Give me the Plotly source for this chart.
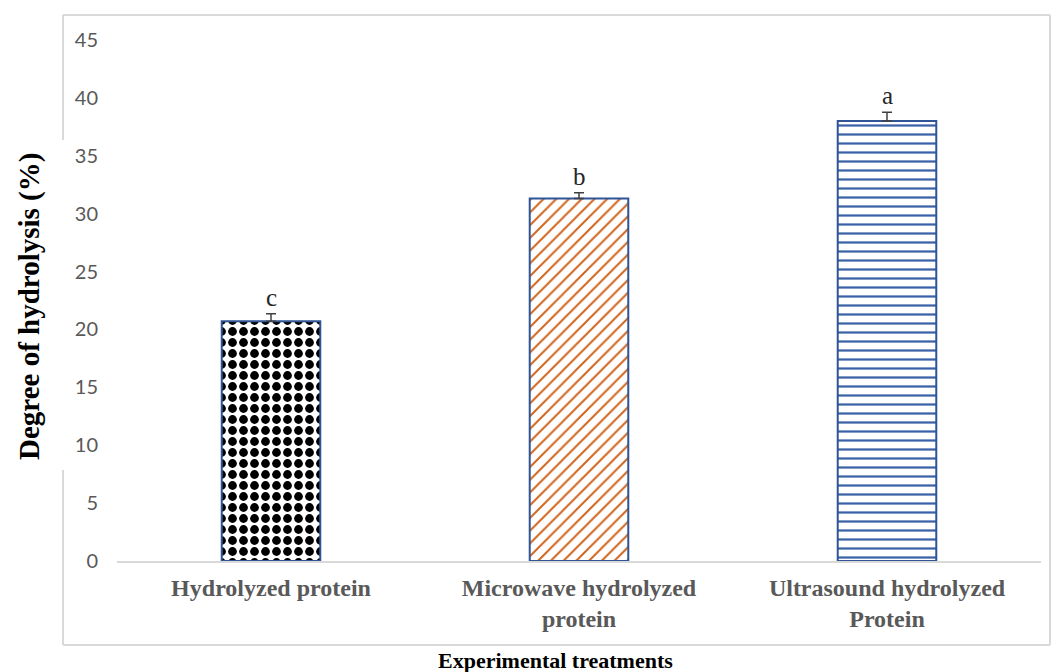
import plotly.graph_objects as go

categories = ["Hydrolyzed protein", "Microwave hydrolyzed<br>protein", "Ultrasound hydrolyzed<br>Protein"]
values = [20.7, 31.3, 38.0]
errors = [0.65, 0.5, 0.75]
letters = ["c", "b", "a"]
y_ticks = [0, 5, 10, 15, 20, 25, 30, 35, 40, 45]

W, H = 1052, 672
L, R, T, B = 117, 11, 40, 111
pw, ph = W - L - R, H - T - B

def px(x):
    return (x - L) / pw

def py(y):
    return (H - B - y) / ph

fig = go.Figure()
fig.add_trace(go.Bar(
    x=categories, y=values,
    marker=dict(
        color="white",
        line=dict(color="#2F5597", width=2),
        pattern=dict(
            shape=[".", "/", "-"],
            fgcolor=["#000000", "#D0651E", "#3A62A8"],
            fgopacity=1,
            size=[11, 9, 9],
            solidity=[0.5, 0.22, 0.25],
        ),
    ),
    error_y=dict(type="data", array=errors, arrayminus=[0, 0, 0], symmetric=False,
                 color="#404040", thickness=1.5, width=5),
    width=0.32,
))

for c, v, e, t in zip(categories, values, errors, letters):
    fig.add_annotation(x=c, y=v + e, text=t, showarrow=False, yanchor="bottom", yshift=1,
                       font=dict(family="Liberation Serif", size=25, color="#262626"))

fig.add_annotation(x=px(555), y=py(660), xref="paper", yref="paper", text="Experimental treatments",
                   showarrow=False, xanchor="center", yanchor="middle",
                   font=dict(family="Liberation Serif", size=22, color="black", weight="bold"))
fig.add_annotation(x=px(29), y=py(307), xref="paper", yref="paper", text="Degree of hydrolysis (%)",
                   textangle=-90, showarrow=False, xanchor="center", yanchor="middle",
                   font=dict(family="Liberation Serif", size=29, color="black", weight="bold"))

border = dict(type="line", xref="paper", yref="paper", line=dict(color="#D9D9D9", width=2))
fig.add_shape(x0=px(63), x1=px(1050), y0=py(15), y1=py(15), **border)
fig.add_shape(x0=px(1050), x1=px(1050), y0=py(15), y1=py(645), **border)
fig.add_shape(x0=px(63), x1=px(1050), y0=py(645), y1=py(645), **border)
fig.add_shape(x0=px(63), x1=px(63), y0=py(15), y1=py(140), **border)
fig.add_shape(x0=px(63), x1=px(63), y0=py(470), y1=py(645), **border)

fig.update_layout(
    width=W, height=H, autosize=False,
    margin=dict(l=L, r=R, t=T, b=B),
    paper_bgcolor="white", plot_bgcolor="white",
    showlegend=False, bargap=0.68,
    xaxis=dict(showline=True, linecolor="#D9D9D9", linewidth=2, showgrid=False, ticks="",
               tickfont=dict(family="Liberation Serif", size=24, color="#595959", weight="bold"),
               ticklabelstandoff=4, range=[-0.5, 2.5]),
    yaxis=dict(range=[0, 45], tickvals=y_ticks, showgrid=False, zeroline=False, showline=False,
               ticks="", tickfont=dict(family="Lato", size=20, color="#595959"),
               ticklabelstandoff=18),
)

fig.write_html("out.html", config={"displayModeBar": False},
               post_script="document.body.style.margin='0';document.body.style.padding='0';")
